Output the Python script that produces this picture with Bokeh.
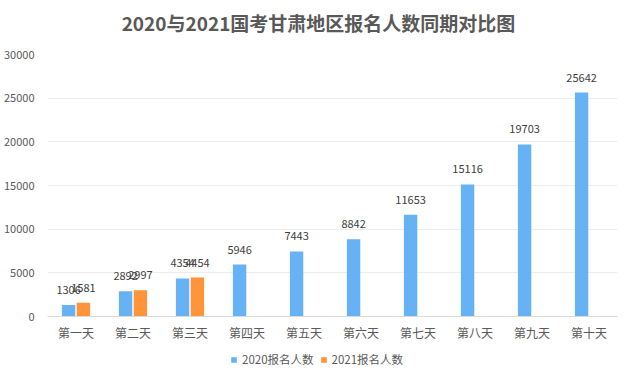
from bokeh.plotting import figure
from bokeh.layouts import column
from bokeh.models import (ColumnDataSource, FactorRange, Range1d, Legend, LegendItem, Label,
                          SingleIntervalTicker, NumeralTickFormatter)
from bokeh.transform import dodge
from bokeh.core.properties import value
from bokeh.embed import file_html
from bokeh.resources import INLINE

days = ["第一天", "第二天", "第三天", "第四天", "第五天", "第六天", "第七天", "第八天", "第九天", "第十天"]
values_2020 = [1306, 2892, 4354, 5946, 7443, 8842, 11653, 15116, 19703, 25642]
values_2021 = [1581, 2997, 4454]
series_names = ["2020报名人数", "2021报名人数"]
title_text = "2020与2021国考甘肃地区报名人数同期对比图"

BLUE = "#67B1F5"
ORANGE = "#FF943A"
FONT = "Noto Sans CJK SC"
GRAY = "#595959"


def strip(height, x_range, y_range):
    f = figure(width=631, height=height, x_range=x_range, y_range=y_range,
               output_backend="svg", toolbar_location=None,
               min_border_left=0, min_border_right=0, min_border_top=0, min_border_bottom=0)
    f.axis.visible = False
    f.grid.visible = False
    f.outline_line_color = None
    f.border_fill_color = "white"
    f.background_fill_color = "white"
    return f


# title strip (frame spans the plot area horizontally, 570 px)
tp = strip(44, Range1d(0, 570), Range1d(0, 44))
tp.add_layout(Label(x=271, y=22, text=title_text, text_font=FONT, text_font_size="19px",
                    text_font_style="bold", text_color=GRAY, text_align="center",
                    text_baseline="middle"))

src20 = ColumnDataSource(dict(day=days, v=values_2020, t=[str(v) for v in values_2020]))
src21 = ColumnDataSource(dict(day=days[:len(values_2021)], v=values_2021, t=[str(v) for v in values_2021]))

p = figure(width=631, height=299, x_range=FactorRange(*days), y_range=Range1d(0, 30000),
           output_backend="svg", toolbar_location=None,
           min_border_left=47, min_border_right=14, min_border_top=10, min_border_bottom=24)
p.outline_line_color = None
p.background_fill_color = "white"
p.border_fill_color = "white"

r1 = p.vbar(x=dodge("day", -0.13, range=p.x_range), top="v", width=0.235, source=src20,
            fill_color=BLUE, line_color=None)
r2 = p.vbar(x=dodge("day", 0.13, range=p.x_range), top="v", width=0.235, source=src21,
            fill_color=ORANGE, line_color=None)

for src, off in ((src20, -0.13), (src21, 0.13)):
    p.text(x=dodge("day", off, range=p.x_range), y="v", text="t", source=src,
           text_font=value(FONT), text_font_size="11px", text_color="#404040",
           text_align="center", text_baseline="middle", y_offset=-15)

p.yaxis.ticker = SingleIntervalTicker(interval=5000)
p.yaxis.formatter = NumeralTickFormatter(format="0")
p.yaxis.axis_line_color = None
p.yaxis.major_tick_line_color = None
p.yaxis.minor_tick_line_color = None
p.yaxis.major_label_text_font = FONT
p.yaxis.major_label_text_font_size = "11px"
p.yaxis.major_label_text_color = GRAY
p.yaxis.major_label_standoff = 7

p.xaxis.axis_line_color = "#D9D9D9"
p.xaxis.major_tick_line_color = None
p.xaxis.minor_tick_line_color = None
p.xaxis.major_label_text_font = FONT
p.xaxis.major_label_text_font_size = "12px"
p.xaxis.major_label_text_color = GRAY
p.xaxis.major_label_standoff = 1

p.xgrid.grid_line_color = None
p.ygrid.grid_line_color = "#EDEDED"

# legend strip below the chart (its proxy bars lie far outside the visible y range)
lg = strip(36, FactorRange(*days), Range1d(1e6, 2e6))
k1 = lg.vbar(x="day", top="v", width=0.2, source=src20, fill_color=BLUE, line_color=None)
k2 = lg.vbar(x="day", top="v", width=0.2, source=src21, fill_color=ORANGE, line_color=None)
legend = Legend(items=[LegendItem(label=series_names[0], renderers=[k1]),
                       LegendItem(label=series_names[1], renderers=[k2])],
                orientation="horizontal", location=(183, 12),
                glyph_width=7, glyph_height=7, label_height=7, label_standoff=5, spacing=6,
                padding=0, margin=0, border_line_color=None, background_fill_alpha=0,
                label_text_font=FONT, label_text_font_size="11.5px", label_text_color=GRAY)
lg.add_layout(legend)

open("out.html", "w").write(file_html(column(tp, p, lg), INLINE))
